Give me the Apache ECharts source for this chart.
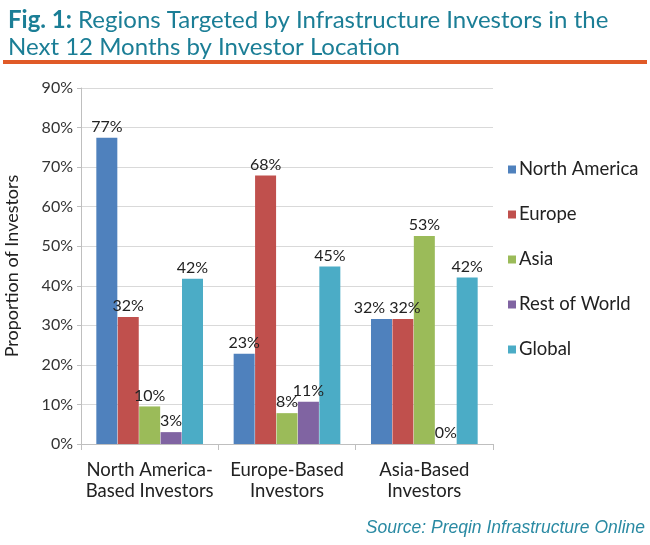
<!DOCTYPE html>
<html>
<head>
<meta charset="utf-8">
<script src="https://cdn.jsdelivr.net/npm/echarts@6/dist/echarts.min.js"></script>
<style>
  html, body { margin: 0; padding: 0; background: #fff; }
  #chart { width: 650px; height: 545px; }
</style>
</head>
<body>
<div id="chart"></div>
<script>
var categories = ['North America-\nBased Investors', 'Europe-Based\nInvestors', 'Asia-Based\nInvestors'];
var seriesNames = ['North America', 'Europe', 'Asia', 'Rest of World', 'Global'];
var northAmerica = [77.4, 22.8, 31.6];
var europe = [32.1, 67.9, 31.6];
var asia = [9.5, 7.8, 52.6];
var restOfWorld = [3.0, 10.7, 0];
var globalVals = [41.8, 44.9, 42.1];
var colors = ['#4F81BD', '#C0504D', '#9BBB59', '#8064A2', '#4BACC6'];

var font = 'Lato';
var chart = echarts.init(document.getElementById('chart'));

function mk(name, data, i) {
    return {
        name: name,
        type: 'bar',
        data: data.map(function (v, j) {
            // Excel pushed the two touching 32% labels apart in the Asia group
            if (j === 2 && i === 0) return { value: v, label: { offset: [-12, 0] } };
            if (j === 2 && i === 1) return { value: v, label: { offset: [2, 0] } };
            return v;
        }),
        barWidth: 21,
        barGap: '2%',
        itemStyle: { color: colors[i] },
        label: {
            show: true,
            position: 'top',
            distance: 3,
            color: '#222',
            fontFamily: font,
            fontSize: 16,
            formatter: function (p) { return Math.round(p.value) + '%'; }
        }
    };
}

var option = {
    animation: false,
    backgroundColor: '#fff',
    title: {
        left: 3,
        top: 2,
        text: '{b|Fig. 1:} Regions Targeted by Infrastructure Investors in the\nNext 12 Months by Investor Location',
        textStyle: {
            fontFamily: font,
            fontSize: 24,
            fontWeight: 'normal',
            color: '#1b7e96',
            lineHeight: 27,
            rich: {
                b: { fontFamily: font, fontSize: 24, fontWeight: 'bold', color: '#1b7e96' }
            }
        }
    },
    graphic: [
        { type: 'rect', shape: { x: 3, y: 60, width: 644, height: 4 }, style: { fill: '#e05a27' } },
        {
            type: 'text', right: 5, top: 519,
            style: { text: 'Source: Preqin Infrastructure Online', fill: '#2a8aa3', font: 'italic 17.5px "Liberation Sans"' }
        }
    ],
    legend: {
        orient: 'vertical',
        left: 503,
        top: 155,
        itemWidth: 8,
        itemHeight: 8,
        itemGap: 26,
        icon: 'rect',
        data: seriesNames,
        textStyle: { fontFamily: font, fontSize: 18.5, color: '#222', padding: [0, 0, 0, -2] }
    },
    grid: { left: 81, right: 157, top: 88, bottom: 101, outerBoundsMode: 'none' },
    xAxis: {
        type: 'category',
        data: categories,
        axisLine: { lineStyle: { color: '#bfbfbf' } },
        axisTick: { show: true, length: 6, lineStyle: { color: '#bfbfbf' } },
        axisLabel: { interval: 0, fontFamily: font, fontSize: 18.5, color: '#222', lineHeight: 21, margin: 16 }
    },
    yAxis: {
        type: 'value',
        min: 0,
        max: 90,
        interval: 10,
        name: 'Proportion of Investors',
        nameLocation: 'middle',
        nameGap: 60,
        nameTextStyle: { fontFamily: font, fontSize: 18, color: '#222' },
        axisLine: { show: true, lineStyle: { color: '#bfbfbf' } },
        axisTick: { show: true, length: 4, lineStyle: { color: '#bfbfbf' } },
        splitLine: { lineStyle: { color: '#d9d9d9' } },
        axisLabel: { fontFamily: font, fontSize: 16, color: '#333', margin: 8, formatter: '{value}%' }
    },
    series: [
        mk(seriesNames[0], northAmerica, 0),
        mk(seriesNames[1], europe, 1),
        mk(seriesNames[2], asia, 2),
        mk(seriesNames[3], restOfWorld, 3),
        mk(seriesNames[4], globalVals, 4)
    ]
};
chart.setOption(option);
</script>
</body>
</html>
